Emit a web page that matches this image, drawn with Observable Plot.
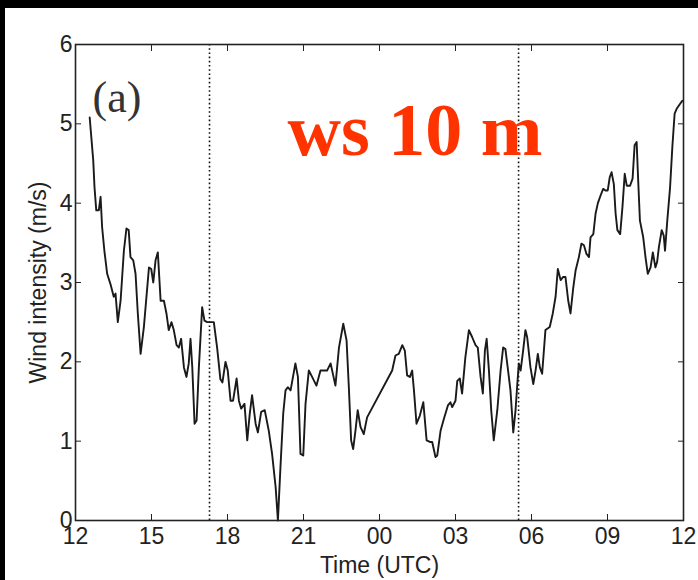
<!DOCTYPE html>
<html>
<head>
<meta charset="utf-8">
<script src="https://cdn.jsdelivr.net/npm/d3@7"></script>
<script src="https://cdn.jsdelivr.net/npm/@observablehq/plot@0.6"></script>
<style>
  html, body { margin: 0; padding: 0; background: #000; width: 698px; height: 580px; overflow: hidden; }
  #panel { position: absolute; left: 5px; top: 8px; width: 693px; height: 572px; background: #fff; }
</style>
</head>
<body>
<div id="panel"></div>
<script>
// Hours elapsed since 12 UTC (day 1)
const hours = [
  0.56, 0.70, 0.75, 0.82, 0.92, 0.99, 1.05, 1.14, 1.25, 1.38, 1.51, 1.58, 1.67, 1.78, 1.91, 2.01, 2.10, 2.17, 2.28, 2.37,
  2.46, 2.57, 2.70, 2.90, 2.99, 3.07, 3.16, 3.25, 3.36, 3.49, 3.59, 3.68, 3.79, 3.88, 3.99, 4.08, 4.17, 4.28, 4.38, 4.47,
  4.54, 4.61, 4.70, 4.78, 4.87, 5.00, 5.09, 5.20, 5.46, 5.59, 5.72, 5.80, 5.92, 6.01, 6.12, 6.22, 6.36, 6.45, 6.54, 6.67,
  6.78, 6.88, 6.97, 7.11, 7.20, 7.33, 7.47, 7.63, 7.76, 7.90, 7.99, 8.09, 8.20, 8.29, 8.38, 8.49, 8.68, 8.78, 8.88, 8.99,
  9.08, 9.21, 9.34, 9.51, 9.67, 9.93, 10.07, 10.26, 10.40, 10.57, 10.70, 10.79, 10.88, 10.96, 11.05, 11.14, 11.25, 11.38, 11.51, 12.50,
  12.63, 12.76, 12.90, 13.00, 13.09, 13.20, 13.29, 13.36, 13.46, 13.59, 13.73, 13.86, 13.99, 14.08, 14.21, 14.28, 14.41, 14.54, 14.70, 14.80,
  14.87, 15.00, 15.07, 15.17, 15.26, 15.39, 15.53, 15.66, 15.79, 15.88, 15.99, 16.08, 16.16, 16.23, 16.32, 16.41, 16.51, 16.65, 16.78, 16.88,
  16.97, 17.06, 17.17, 17.28, 17.37, 17.44, 17.50, 17.57, 17.67, 17.76, 17.83, 17.96, 18.07, 18.16, 18.25, 18.33, 18.42, 18.55, 18.72, 18.84,
  18.95, 19.04, 19.15, 19.25, 19.34, 19.45, 19.54, 19.65, 19.74, 19.87, 19.97, 20.07, 20.17, 20.27, 20.33, 20.44, 20.53, 20.62, 20.73, 20.83,
  20.92, 21.01, 21.09, 21.16, 21.25, 21.32, 21.39, 21.50, 21.59, 21.68, 21.76, 21.89, 21.99, 22.07, 22.15, 22.20, 22.28, 22.41, 22.50, 22.59,
  22.70, 22.79, 22.89, 22.96, 23.03, 23.14, 23.22, 23.27, 23.36, 23.47, 23.56, 23.65, 23.73, 23.86, 23.95
];
// Wind speed at 10 m (m/s)
const windSpeed = [
  5.08, 4.54, 4.20, 3.91, 3.91, 4.08, 3.70, 3.40, 3.11, 2.98, 2.82, 2.86, 2.50, 2.77, 3.40, 3.68, 3.66, 3.32, 3.28, 3.11,
  2.61, 2.10, 2.44, 3.19, 3.17, 3.00, 3.28, 3.38, 2.77, 2.77, 2.61, 2.40, 2.50, 2.40, 2.21, 2.18, 2.29, 1.93, 1.81, 1.98,
  2.29, 1.93, 1.22, 1.26, 1.93, 2.69, 2.52, 2.50, 2.50, 2.18, 1.78, 1.74, 2.00, 1.89, 1.51, 1.51, 1.79, 1.51, 1.41, 1.47,
  1.01, 1.35, 1.58, 1.22, 1.11, 1.37, 1.39, 1.13, 0.84, 0.42, 0.00, 0.67, 1.35, 1.64, 1.68, 1.64, 1.98, 1.81, 0.84, 0.82,
  1.47, 1.89, 1.81, 1.70, 1.89, 1.89, 1.98, 1.70, 2.18, 2.48, 2.27, 1.68, 1.01, 0.90, 1.13, 1.39, 1.18, 1.09, 1.30, 1.89,
  2.08, 2.10, 2.21, 2.14, 1.83, 1.81, 1.89, 1.64, 1.22, 1.32, 1.49, 1.01, 0.99, 0.99, 0.80, 0.82, 1.13, 1.28, 1.45, 1.49,
  1.43, 1.51, 1.76, 1.79, 1.60, 2.06, 2.40, 2.31, 2.21, 2.18, 1.81, 1.60, 2.14, 2.29, 1.89, 1.39, 1.01, 1.39, 1.89, 2.18,
  2.16, 1.93, 1.64, 1.11, 1.39, 1.72, 1.98, 1.89, 2.14, 2.40, 2.31, 1.93, 1.72, 1.89, 2.10, 1.93, 1.85, 2.40, 2.44, 2.61,
  2.82, 3.17, 3.03, 3.07, 3.07, 2.77, 2.61, 2.94, 3.15, 3.32, 3.49, 3.47, 3.36, 3.32, 3.57, 3.61, 3.87, 4.00, 4.10, 4.18,
  4.16, 4.16, 4.33, 4.39, 4.24, 3.87, 3.66, 3.61, 3.95, 4.37, 4.22, 4.22, 4.31, 4.73, 4.77, 4.37, 3.78, 3.57, 3.32, 3.11,
  3.19, 3.38, 3.19, 3.26, 3.45, 3.66, 3.59, 3.40, 3.78, 4.20, 4.71, 5.13, 5.19, 5.25, 5.29
];
// Sunset / sunrise markers (hours since 12 UTC)
const dottedLines = [5.29, 17.49];

const xTicks = [0, 3, 6, 9, 12, 15, 18, 21, 24];
const xTickLabels = ["12", "15", "18", "21", "00", "03", "06", "09", "12"];
const yTicks = [0, 1, 2, 3, 4, 5, 6];

const xTitle = "Time (UTC)";
const yTitle = "Wind intensity (m/s)";
const panelLabel = "(a)";
const heightLabel = "ws 10 m";

const data = hours.map((h, i) => ({hour: h, ws: windSpeed[i]}));

const ink = "#222";

const chart = Plot.plot({
  width: 693,
  height: 572,
  marginLeft: 70,
  marginRight: 15,
  marginTop: 36,
  marginBottom: 60,
  style: {background: "#fff", fontFamily: "Liberation Sans, Arial, sans-serif", fontSize: "23px", color: ink},
  x: {domain: [0, 24], label: null},
  y: {domain: [0, 6], label: null},
  marks: [
    Plot.ruleX(dottedLines, {stroke: "#111", strokeWidth: 1.6, strokeDasharray: "1.6,2.6"}),
    Plot.line(data, {x: "hour", y: "ws", stroke: "#1a1a1a", strokeWidth: 1.9}),
    Plot.frame({stroke: ink, strokeWidth: 1.6}),
    Plot.axisX({anchor: "bottom", ticks: xTicks, tickSize: -6, tickPadding: 13, tickFormat: d => xTickLabels[xTicks.indexOf(d)], label: null, fontSize: 23, fill: ink}),
    Plot.axisX({anchor: "top", ticks: xTicks, tickSize: -6, tickFormat: () => "", label: null}),
    Plot.axisY({anchor: "left", ticks: yTicks, tickSize: -6, tickPadding: 9, tickFormat: d => String(d), label: null, fontSize: 23, fill: ink}),
    Plot.axisY({anchor: "right", ticks: yTicks, tickSize: -6, tickFormat: () => "", label: null}),
    Plot.text([xTitle], {frameAnchor: "bottom", dy: 45, textAnchor: "middle", lineAnchor: "middle", fontSize: 23, fill: ink}),
    Plot.text([yTitle], {frameAnchor: "left", dx: -37, rotate: -90, textAnchor: "middle", lineAnchor: "middle", fontSize: 23, fill: ink}),
    Plot.text([panelLabel], {frameAnchor: "top-left", dx: 17, dy: 67, textAnchor: "start", lineAnchor: "bottom", fontFamily: "Liberation Serif, serif", fontSize: 44, fill: "#333"}),
    Plot.text([heightLabel], {frameAnchor: "top-left", dx: 212, dy: 110, textAnchor: "start", lineAnchor: "bottom", fontFamily: "Liberation Serif, serif", fontWeight: "bold", fontSize: 74, fill: "#ff3300"})
  ]
});
document.getElementById("panel").appendChild(chart);
</script>
</body>
</html>
